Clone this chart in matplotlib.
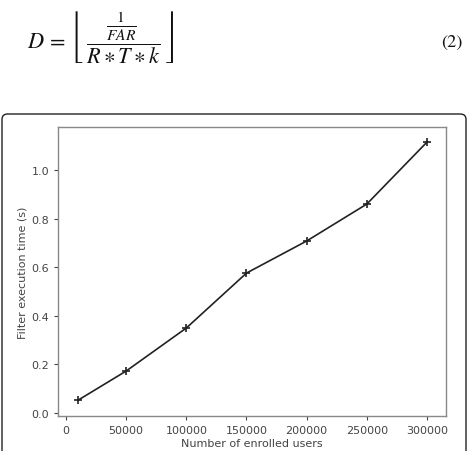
import matplotlib
matplotlib.use("Agg")
import matplotlib.pyplot as plt
from matplotlib.patches import FancyBboxPatch

users = [10000, 50000, 100000, 150000, 200000, 250000, 300000]
exec_time = [0.053, 0.173, 0.35, 0.576, 0.708, 0.86, 1.115]
xticks = [0, 50000, 100000, 150000, 200000, 250000, 300000]
yticks = [0.0, 0.2, 0.4, 0.6, 0.8, 1.0]

plt.rcParams['mathtext.fontset'] = 'stix'

fig = plt.figure(figsize=(4.72, 4.52), dpi=100)
W, H = 472, 452

# equation above the figure box
fig.text(27 / W, 1 - 37 / H,
         r'$D\,=\,\left\lfloor\; \dfrac{\frac{1}{FAR}}{R \ast T \ast k} \;\right\rfloor$',
         fontsize=16, ha='left', va='center', color='#111111')
fig.text(463 / W, 1 - 43 / H, '(2)', fontsize=13, family='STIXGeneral',
         ha='right', va='center', color='#111111')

# rounded frame around the plot
box = FancyBboxPatch((2 / W, -0.05), 464 / W, (H - 115) / H + 0.05,
                     boxstyle='round,pad=0,rounding_size=0.012',
                     transform=fig.transFigure, fill=False,
                     edgecolor='#222222', linewidth=1.0, clip_on=False)
fig.patches.append(box)

ax = fig.add_axes([58 / W, 1 - 417 / H, 388 / W, 289 / H])
ax.plot(users, exec_time, color='#222222', linewidth=1.2, marker='+',
        markersize=6, markeredgewidth=1.2)
ax.set_xlim(-6650, 315800)
ax.set_ylim(-0.012, 1.177)
ax.set_xticks(xticks)
ax.set_yticks(yticks)
ax.set_xticklabels([str(t) for t in xticks])
ax.set_yticklabels(['%.1f' % t for t in yticks])
ax.tick_params(labelsize=8, colors='#444444', length=3, width=0.8)
for s in ax.spines.values():
    s.set_color('#888888')
    s.set_linewidth(1.0)
ax.set_xlabel('Number of enrolled users', fontsize=8, color='#444444', labelpad=2)
ax.set_ylabel('Filter execution time (s)', fontsize=8, color='#444444', labelpad=3)

fig.savefig('out.png', dpi=100)
